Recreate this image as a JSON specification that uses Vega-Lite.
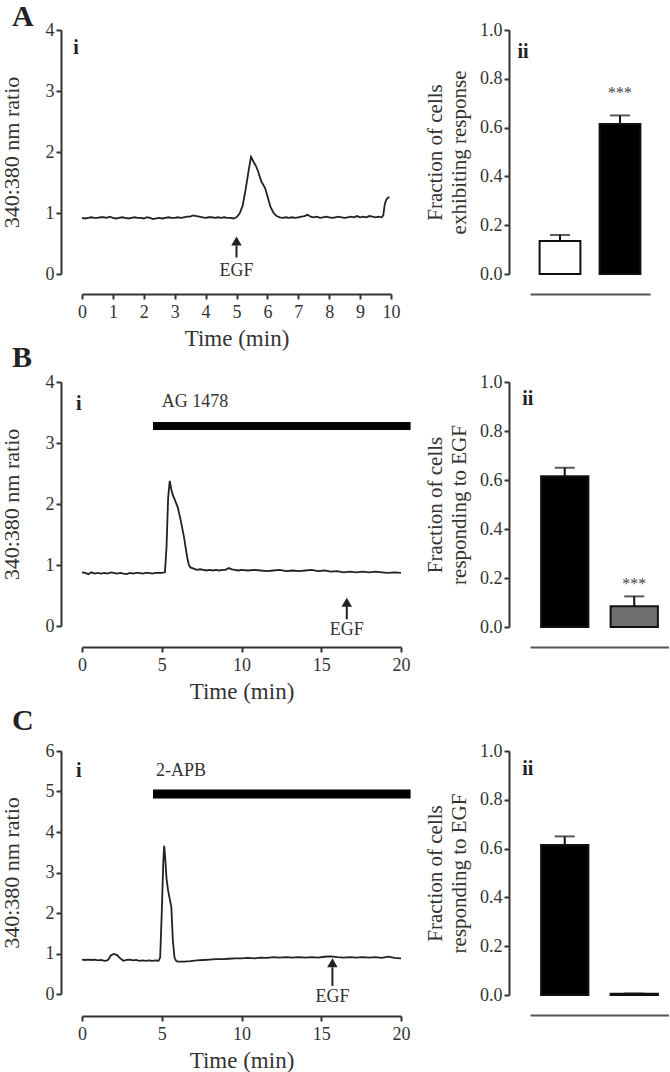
{
 "$schema": "https://vega.github.io/schema/vega-lite/v6.json",
 "padding": {"top": 2, "left": 0, "right": 0, "bottom": 0},
 "background": "white",
 "config": {
  "font": "Liberation Serif",
  "view": {"stroke": null},
  "axis": {"domainColor": "#333", "domainWidth": 2, "tickColor": "#333", "tickWidth": 2, "tickSize": 5, "labelFont": "Liberation Serif", "labelFontSize": 18, "labelColor": "#333", "titleFont": "Liberation Serif", "titleFontSize": 22, "titleFontWeight": "normal", "titleColor": "#333", "grid": false, "labelPadding": 2, "labelFlush": false, "labelOverlap": false},
  "title": {"font": "Liberation Serif", "fontSize": 30, "fontWeight": "bold", "color": "#222", "anchor": "start", "frame": "group"},
  "text": {"font": "Liberation Serif", "color": "#333"}
 },
 "datasets": {
  "traceA": [
   {"t":0,"r":0.92},{"t":0.1,"r":0.91},{"t":0.2,"r":0.92},{"t":0.3,"r":0.93},{"t":0.4,"r":0.92},{"t":0.5,"r":0.92},{"t":0.6,"r":0.93},{"t":0.7,"r":0.93},{"t":0.8,"r":0.92},{"t":0.9,"r":0.94},
   {"t":1.0,"r":0.92},{"t":1.1,"r":0.91},{"t":1.2,"r":0.92},{"t":1.3,"r":0.93},{"t":1.4,"r":0.92},{"t":1.5,"r":0.91},{"t":1.6,"r":0.92},{"t":1.7,"r":0.93},{"t":1.8,"r":0.92},{"t":1.9,"r":0.92},
   {"t":2.0,"r":0.91},{"t":2.1,"r":0.93},{"t":2.2,"r":0.92},{"t":2.3,"r":0.90},{"t":2.4,"r":0.91},{"t":2.5,"r":0.92},{"t":2.6,"r":0.91},{"t":2.7,"r":0.92},{"t":2.8,"r":0.93},{"t":2.9,"r":0.92},
   {"t":3.0,"r":0.92},{"t":3.1,"r":0.93},{"t":3.2,"r":0.92},{"t":3.3,"r":0.93},{"t":3.4,"r":0.94},{"t":3.5,"r":0.94},{"t":3.6,"r":0.96},{"t":3.7,"r":0.95},{"t":3.8,"r":0.94},{"t":3.9,"r":0.93},
   {"t":4.0,"r":0.92},{"t":4.1,"r":0.93},{"t":4.2,"r":0.93},{"t":4.3,"r":0.92},{"t":4.4,"r":0.93},{"t":4.5,"r":0.92},{"t":4.6,"r":0.93},{"t":4.7,"r":0.92},{"t":4.8,"r":0.92},{"t":4.9,"r":0.91},
   {"t":5.0,"r":0.93},{"t":5.1,"r":0.99},{"t":5.2,"r":1.12},{"t":5.3,"r":1.40},{"t":5.4,"r":1.72},{"t":5.47,"r":1.92},{"t":5.55,"r":1.84},{"t":5.63,"r":1.77},{"t":5.7,"r":1.68},{"t":5.8,"r":1.52},
   {"t":5.87,"r":1.46},{"t":5.93,"r":1.40},{"t":6.0,"r":1.28},{"t":6.1,"r":1.10},{"t":6.2,"r":1.00},{"t":6.3,"r":0.95},{"t":6.4,"r":0.93},{"t":6.5,"r":0.92},{"t":6.6,"r":0.93},{"t":6.7,"r":0.92},
   {"t":6.8,"r":0.93},{"t":6.9,"r":0.92},{"t":7.0,"r":0.93},{"t":7.1,"r":0.94},{"t":7.2,"r":0.95},{"t":7.3,"r":0.97},{"t":7.4,"r":0.94},{"t":7.5,"r":0.93},{"t":7.6,"r":0.94},{"t":7.7,"r":0.92},
   {"t":7.8,"r":0.93},{"t":7.9,"r":0.94},{"t":8.0,"r":0.93},{"t":8.1,"r":0.92},{"t":8.2,"r":0.93},{"t":8.3,"r":0.94},{"t":8.4,"r":0.93},{"t":8.5,"r":0.92},{"t":8.6,"r":0.93},{"t":8.7,"r":0.94},
   {"t":8.8,"r":0.93},{"t":8.9,"r":0.95},{"t":9.0,"r":0.93},{"t":9.1,"r":0.94},{"t":9.2,"r":0.93},{"t":9.3,"r":0.95},{"t":9.4,"r":0.94},{"t":9.5,"r":0.93},{"t":9.6,"r":0.94},{"t":9.7,"r":0.93},
   {"t":9.75,"r":0.96},{"t":9.8,"r":1.15},{"t":9.85,"r":1.22},{"t":9.9,"r":1.25},{"t":9.95,"r":1.26}
  ],
  "traceB": [
   {"t":0,"r":0.88},{"t":0.2,"r":0.87},{"t":0.4,"r":0.85},{"t":0.6,"r":0.88},{"t":0.8,"r":0.86},{"t":1.0,"r":0.87},{"t":1.2,"r":0.86},{"t":1.4,"r":0.87},{"t":1.6,"r":0.86},{"t":1.8,"r":0.88},
   {"t":2.0,"r":0.87},{"t":2.2,"r":0.86},{"t":2.4,"r":0.87},{"t":2.6,"r":0.86},{"t":2.8,"r":0.85},{"t":3.0,"r":0.87},{"t":3.2,"r":0.86},{"t":3.4,"r":0.87},{"t":3.6,"r":0.87},{"t":3.8,"r":0.86},
   {"t":4.0,"r":0.87},{"t":4.2,"r":0.87},{"t":4.4,"r":0.86},{"t":4.6,"r":0.87},{"t":4.8,"r":0.87},{"t":5.0,"r":0.87},{"t":5.2,"r":0.88},{"t":5.3,"r":1.3},{"t":5.4,"r":2.1},{"t":5.5,"r":2.38},
   {"t":5.6,"r":2.24},{"t":5.7,"r":2.14},{"t":5.8,"r":2.08},{"t":6.0,"r":1.95},{"t":6.2,"r":1.72},{"t":6.4,"r":1.45},{"t":6.5,"r":1.28},{"t":6.6,"r":1.12},{"t":6.7,"r":1.0},{"t":6.8,"r":0.96},
   {"t":7.0,"r":0.94},{"t":7.2,"r":0.92},{"t":7.4,"r":0.93},{"t":7.6,"r":0.92},{"t":7.8,"r":0.91},{"t":8.0,"r":0.92},{"t":8.2,"r":0.91},{"t":8.4,"r":0.92},{"t":8.6,"r":0.91},{"t":8.8,"r":0.92},
   {"t":9.0,"r":0.92},{"t":9.2,"r":0.95},{"t":9.4,"r":0.93},{"t":9.6,"r":0.92},{"t":9.8,"r":0.91},{"t":10.0,"r":0.92},{"t":10.4,"r":0.91},{"t":10.8,"r":0.92},{"t":11.2,"r":0.91},{"t":11.6,"r":0.90},
   {"t":12.0,"r":0.91},{"t":12.4,"r":0.92},{"t":12.8,"r":0.90},{"t":13.2,"r":0.91},{"t":13.6,"r":0.90},{"t":14.0,"r":0.91},{"t":14.4,"r":0.92},{"t":14.8,"r":0.90},{"t":15.2,"r":0.91},{"t":15.6,"r":0.89},
   {"t":16.0,"r":0.90},{"t":16.4,"r":0.88},{"t":16.8,"r":0.89},{"t":17.2,"r":0.88},{"t":17.6,"r":0.89},{"t":18.0,"r":0.88},{"t":18.4,"r":0.89},{"t":18.8,"r":0.88},{"t":19.2,"r":0.87},{"t":19.6,"r":0.88},{"t":20.0,"r":0.87}
  ],
  "traceC": [
   {"t":0,"r":0.85},{"t":0.2,"r":0.84},{"t":0.4,"r":0.85},{"t":0.6,"r":0.84},{"t":0.8,"r":0.85},{"t":1.0,"r":0.83},{"t":1.2,"r":0.84},{"t":1.4,"r":0.82},{"t":1.6,"r":0.83},{"t":1.7,"r":0.88},
   {"t":1.8,"r":0.95},{"t":2.0,"r":0.99},{"t":2.2,"r":0.96},{"t":2.4,"r":0.88},{"t":2.6,"r":0.82},{"t":2.8,"r":0.84},{"t":3.0,"r":0.85},{"t":3.2,"r":0.83},{"t":3.4,"r":0.84},{"t":3.6,"r":0.82},
   {"t":3.8,"r":0.83},{"t":4.0,"r":0.82},{"t":4.2,"r":0.83},{"t":4.4,"r":0.82},{"t":4.6,"r":0.83},{"t":4.8,"r":0.82},{"t":4.9,"r":0.9},{"t":5.0,"r":2.0},{"t":5.1,"r":3.3},{"t":5.15,"r":3.66},
   {"t":5.2,"r":3.45},{"t":5.3,"r":2.85},{"t":5.4,"r":2.55},{"t":5.5,"r":2.35},{"t":5.6,"r":2.15},{"t":5.7,"r":1.3},{"t":5.8,"r":0.9},{"t":5.9,"r":0.82},{"t":6.0,"r":0.80},{"t":6.4,"r":0.80},
   {"t":6.8,"r":0.81},{"t":7.2,"r":0.83},{"t":7.6,"r":0.84},{"t":8.0,"r":0.85},{"t":8.4,"r":0.86},{"t":8.8,"r":0.86},{"t":9.2,"r":0.87},{"t":9.6,"r":0.88},{"t":10.0,"r":0.88},{"t":10.4,"r":0.89},
   {"t":10.8,"r":0.88},{"t":11.2,"r":0.90},{"t":11.6,"r":0.89},{"t":12.0,"r":0.91},{"t":12.4,"r":0.90},{"t":12.8,"r":0.91},{"t":13.2,"r":0.90},{"t":13.6,"r":0.91},{"t":14.0,"r":0.90},{"t":14.4,"r":0.91},
   {"t":14.8,"r":0.90},{"t":15.2,"r":0.92},{"t":15.6,"r":0.93},{"t":16.0,"r":0.91},{"t":16.4,"r":0.90},{"t":16.8,"r":0.91},{"t":17.2,"r":0.90},{"t":17.6,"r":0.91},{"t":18.0,"r":0.90},{"t":18.4,"r":0.91},
   {"t":18.8,"r":0.89},{"t":19.2,"r":0.92},{"t":19.6,"r":0.89},{"t":20.0,"r":0.88}
  ],
  "barsA": [{"group":"Control","fraction":0.135,"upper":0.16},{"group":"EGF","fraction":0.615,"upper":0.65}],
  "barsB": [{"group":"EGF","fraction":0.615,"upper":0.65},{"group":"AG 1478","fraction":0.085,"upper":0.125}],
  "barsC": [{"group":"EGF","fraction":0.615,"upper":0.65},{"group":"2-APB","fraction":0.005,"upper":0.006}]
 },
 "columns": 2,
 "align": "each",
 "bounds": "flush",
 "spacing": {"row": 108, "column": 129},
 "resolve": {"scale": {"color": "independent"}},
 "concat": [
  {
   "width": 309, "height": 244,
   "title": {"text": "A", "dx": -70, "offset": -11},
   "layer": [
    {"data": {"name": "traceA"}, "mark": {"type": "line", "color": "#222", "strokeWidth": 1.8},
     "encoding": {
      "x": {"field": "t", "type": "quantitative", "scale": {"domain": [0, 10], "nice": false}, "axis": {"title": "Time (min)", "titleFontSize": 23, "offset": 20, "values": [0,1,2,3,4,5,6,7,8,9,10], "tickCount": 11, "format": "d", "labelOverlap": false, "labelPadding": 4, "titlePadding": 6}},
      "y": {"field": "r", "type": "quantitative", "scale": {"domain": [0, 4], "nice": false}, "axis": {"title": "340:380 nm ratio", "offset": 21, "values": [0,1,2,3,4], "tickCount": 5, "format": "d", "labelOverlap": false, "titlePadding": 22}}
     }},
    {"data": {"values": [{"t": 5.0, "label": "EGF"}]}, "mark": {"type": "rule", "color": "#222", "strokeWidth": 2},
     "encoding": {"x": {"field": "t", "type": "quantitative"}, "y": {"datum": 0.27}, "y2": {"datum": 0.47}}},
    {"data": {"values": [{"t": 5.0, "label": "EGF"}]}, "mark": {"type": "point", "shape": "triangle-up", "filled": true, "size": 110, "color": "#222", "opacity": 1},
     "encoding": {"x": {"field": "t", "type": "quantitative"}, "y": {"datum": 0.54}}},
    {"data": {"values": [{"t": 5.0, "label": "EGF"}]}, "mark": {"type": "text", "fontSize": 18, "baseline": "middle"},
     "encoding": {"x": {"field": "t", "type": "quantitative"}, "y": {"datum": 0.05}, "text": {"field": "label"}}},
    {"data": {"values": [{"label": "i"}]}, "mark": {"type": "text", "fontSize": 20, "fontWeight": "bold", "baseline": "middle", "color": "#222"},
     "encoding": {"x": {"datum": -0.19}, "y": {"datum": 3.7}, "text": {"field": "label"}}}
   ]
  },
  {
   "width": 120, "height": 244,
   "data": {"name": "barsA"},
   "layer": [
    {"mark": {"type": "bar", "stroke": "#111", "strokeWidth": 2},
     "encoding": {
      "x": {"field": "group", "type": "nominal", "sort": null, "scale": {"domain": ["Control", "EGF"], "paddingInner": 0.32, "paddingOuter": 0.16}, "axis": {"title": null, "labels": false, "ticks": false, "offset": 20, "domainColor": "#555"}},
      "y": {"field": "fraction", "type": "quantitative", "scale": {"domain": [0, 1], "nice": false}, "axis": {"title": ["Fraction of cells", "exhibiting response"], "titleFontSize": 21, "titleLineHeight": 24, "offset": 21, "values": [0, 0.2, 0.4, 0.6, 0.8, 1.0], "tickCount": 6, "format": ".1f", "labelOverlap": false, "titlePadding": 10}},
      "color": {"field": "group", "type": "nominal", "scale": {"domain": ["Control", "EGF"], "range": ["#ffffff", "#000000"]}, "legend": null}
     }},
    {"mark": {"type": "rule", "color": "#111", "strokeWidth": 2},
     "encoding": {"x": {"field": "group", "type": "nominal", "sort": null}, "y": {"field": "fraction", "type": "quantitative"}, "y2": {"field": "upper"}}},
    {"mark": {"type": "tick", "color": "#111", "thickness": 2, "size": 20, "orient": "horizontal"},
     "encoding": {"x": {"field": "group", "type": "nominal", "sort": null}, "y": {"field": "upper", "type": "quantitative"}}},
    {"data": {"values": [{"group": "EGF", "sig": "***"}]}, "mark": {"type": "text", "fontSize": 16, "baseline": "middle", "color": "#444"},
     "encoding": {"x": {"field": "group", "type": "nominal", "sort": null}, "y": {"datum": 0.74}, "text": {"field": "sig"}}},
    {"data": {"values": [{"group": "Control", "label": "ii"}]}, "mark": {"type": "text", "fontSize": 20, "fontWeight": "bold", "baseline": "middle", "dx": -37, "color": "#222"},
     "encoding": {"x": {"field": "group", "type": "nominal", "sort": null}, "y": {"datum": 0.91}, "text": {"field": "label"}}}
   ]
  },
  {
   "width": 319, "height": 261,
   "title": {"text": "B", "dx": -70, "offset": 0},
   "layer": [
    {"data": {"name": "traceB"}, "mark": {"type": "line", "color": "#222", "strokeWidth": 1.8},
     "encoding": {
      "x": {"field": "t", "type": "quantitative", "scale": {"domain": [0, 20], "nice": false}, "axis": {"title": "Time (min)", "titleFontSize": 23, "offset": 4, "values": [0,5,10,15,20], "tickCount": 5, "format": "d", "labelOverlap": false, "labelPadding": 4, "titlePadding": 6}},
      "y": {"field": "r", "type": "quantitative", "scale": {"domain": [0, 4], "nice": false, "range": [244, 0]}, "axis": {"title": "340:380 nm ratio", "offset": 21, "values": [0,1,2,3,4], "tickCount": 5, "format": "d", "labelOverlap": false, "titlePadding": 22}}
     }},
    {"data": {"values": [{"start": 4.45, "end": 20.6, "drug": "AG 1478"}]}, "mark": {"type": "rule", "color": "#000", "strokeWidth": 8, "strokeCap": "butt"},
     "encoding": {"x": {"field": "start", "type": "quantitative"}, "x2": {"field": "end"}, "y": {"datum": 3.28}}},
    {"data": {"values": [{"start": 4.45, "end": 20.6, "drug": "AG 1478"}]}, "mark": {"type": "text", "fontSize": 18, "align": "left", "baseline": "middle"},
     "encoding": {"x": {"datum": 5.0}, "y": {"datum": 3.67}, "text": {"field": "drug"}}},
    {"data": {"values": [{"t": 16.6, "label": "EGF"}]}, "mark": {"type": "rule", "color": "#222", "strokeWidth": 2},
     "encoding": {"x": {"field": "t", "type": "quantitative"}, "y": {"datum": 0.11}, "y2": {"datum": 0.33}}},
    {"data": {"values": [{"t": 16.6, "label": "EGF"}]}, "mark": {"type": "point", "shape": "triangle-up", "filled": true, "size": 110, "color": "#222", "opacity": 1},
     "encoding": {"x": {"field": "t", "type": "quantitative"}, "y": {"datum": 0.39}}},
    {"data": {"values": [{"t": 16.6, "label": "EGF"}]}, "mark": {"type": "text", "fontSize": 18, "baseline": "middle"},
     "encoding": {"x": {"field": "t", "type": "quantitative"}, "y": {"datum": -0.07}, "text": {"field": "label"}}},
    {"data": {"values": [{"label": "i"}]}, "mark": {"type": "text", "fontSize": 20, "fontWeight": "bold", "baseline": "middle", "color": "#222"},
     "encoding": {"x": {"datum": -0.2}, "y": {"datum": 3.64}, "text": {"field": "label"}}}
   ]
  },
  {
   "width": 139, "height": 245,
   "data": {"name": "barsB"},
   "layer": [
    {"mark": {"type": "bar", "stroke": "#111", "strokeWidth": 2},
     "encoding": {
      "x": {"field": "group", "type": "nominal", "sort": null, "scale": {"domain": ["EGF", "AG 1478"], "paddingInner": 0.32, "paddingOuter": 0.16}, "axis": {"title": null, "labels": false, "ticks": false, "offset": 20, "domainColor": "#555"}},
      "y": {"field": "fraction", "type": "quantitative", "scale": {"domain": [0, 1], "nice": false}, "axis": {"title": ["Fraction of cells", "responding to EGF"], "titleFontSize": 21, "titleLineHeight": 24, "offset": 21, "values": [0, 0.2, 0.4, 0.6, 0.8, 1.0], "tickCount": 6, "format": ".1f", "labelOverlap": false, "titlePadding": 10}},
      "color": {"field": "group", "type": "nominal", "scale": {"domain": ["EGF", "AG 1478"], "range": ["#000000", "#707070"]}, "legend": null}
     }},
    {"mark": {"type": "rule", "color": "#111", "strokeWidth": 2},
     "encoding": {"x": {"field": "group", "type": "nominal", "sort": null}, "y": {"field": "fraction", "type": "quantitative"}, "y2": {"field": "upper"}}},
    {"mark": {"type": "tick", "color": "#111", "thickness": 2, "size": 20, "orient": "horizontal"},
     "encoding": {"x": {"field": "group", "type": "nominal", "sort": null}, "y": {"field": "upper", "type": "quantitative"}}},
    {"data": {"values": [{"group": "AG 1478", "sig": "***"}]}, "mark": {"type": "text", "fontSize": 16, "baseline": "middle", "color": "#444"},
     "encoding": {"x": {"field": "group", "type": "nominal", "sort": null}, "y": {"datum": 0.175}, "text": {"field": "sig"}}},
    {"data": {"values": [{"group": "EGF", "label": "ii"}]}, "mark": {"type": "text", "fontSize": 20, "fontWeight": "bold", "baseline": "middle", "dx": -37, "color": "#222"},
     "encoding": {"x": {"field": "group", "type": "nominal", "sort": null}, "y": {"datum": 0.93}, "text": {"field": "label"}}}
   ]
  },
  {
   "width": 319, "height": 243,
   "title": {"text": "C", "dx": -70, "offset": 6},
   "layer": [
    {"data": {"name": "traceC"}, "mark": {"type": "line", "color": "#222", "strokeWidth": 1.8},
     "encoding": {
      "x": {"field": "t", "type": "quantitative", "scale": {"domain": [0, 20], "nice": false}, "axis": {"title": "Time (min)", "titleFontSize": 23, "offset": 22, "values": [0,5,10,15,20], "tickCount": 5, "format": "d", "labelOverlap": false, "labelPadding": 4, "titlePadding": 6}},
      "y": {"field": "r", "type": "quantitative", "scale": {"domain": [0, 6], "nice": false}, "axis": {"title": "340:380 nm ratio", "offset": 21, "values": [0,1,2,3,4,5,6], "tickCount": 7, "format": "d", "labelOverlap": false, "titlePadding": 22}}
     }},
    {"data": {"values": [{"start": 4.45, "end": 20.6, "drug": "2-APB"}]}, "mark": {"type": "rule", "color": "#000", "strokeWidth": 9, "strokeCap": "butt"},
     "encoding": {"x": {"field": "start", "type": "quantitative"}, "x2": {"field": "end"}, "y": {"datum": 4.94}}},
    {"data": {"values": [{"start": 4.45, "end": 20.6, "drug": "2-APB"}]}, "mark": {"type": "text", "fontSize": 18, "align": "left", "baseline": "middle"},
     "encoding": {"x": {"datum": 4.64}, "y": {"datum": 5.5}, "text": {"field": "drug"}}},
    {"data": {"values": [{"t": 15.7, "label": "EGF"}]}, "mark": {"type": "rule", "color": "#222", "strokeWidth": 2},
     "encoding": {"x": {"field": "t", "type": "quantitative"}, "y": {"datum": 0.2}, "y2": {"datum": 0.66}}},
    {"data": {"values": [{"t": 15.7, "label": "EGF"}]}, "mark": {"type": "point", "shape": "triangle-up", "filled": true, "size": 110, "color": "#222", "opacity": 1},
     "encoding": {"x": {"field": "t", "type": "quantitative"}, "y": {"datum": 0.77}}},
    {"data": {"values": [{"t": 15.7, "label": "EGF"}]}, "mark": {"type": "text", "fontSize": 18, "baseline": "middle"},
     "encoding": {"x": {"field": "t", "type": "quantitative"}, "y": {"datum": -0.07}, "text": {"field": "label"}}},
    {"data": {"values": [{"label": "i"}]}, "mark": {"type": "text", "fontSize": 20, "fontWeight": "bold", "baseline": "middle", "color": "#222"},
     "encoding": {"x": {"datum": -0.2}, "y": {"datum": 5.5}, "text": {"field": "label"}}}
   ]
  },
  {
   "width": 139, "height": 244,
   "data": {"name": "barsC"},
   "layer": [
    {"mark": {"type": "bar", "stroke": "#111", "strokeWidth": 2},
     "encoding": {
      "x": {"field": "group", "type": "nominal", "sort": null, "scale": {"domain": ["EGF", "2-APB"], "paddingInner": 0.32, "paddingOuter": 0.16}, "axis": {"title": null, "labels": false, "ticks": false, "offset": 20, "domainColor": "#555"}},
      "y": {"field": "fraction", "type": "quantitative", "scale": {"domain": [0, 1], "nice": false}, "axis": {"title": ["Fraction of cells", "responding to EGF"], "titleFontSize": 21, "titleLineHeight": 24, "offset": 21, "values": [0, 0.2, 0.4, 0.6, 0.8, 1.0], "tickCount": 6, "format": ".1f", "labelOverlap": false, "titlePadding": 10}},
      "color": {"field": "group", "type": "nominal", "scale": {"domain": ["EGF", "2-APB"], "range": ["#000000", "#000000"]}, "legend": null}
     }},
    {"mark": {"type": "rule", "color": "#111", "strokeWidth": 2},
     "encoding": {"x": {"field": "group", "type": "nominal", "sort": null}, "y": {"field": "fraction", "type": "quantitative"}, "y2": {"field": "upper"}}},
    {"mark": {"type": "tick", "color": "#111", "thickness": 2, "size": 20, "orient": "horizontal"},
     "encoding": {"x": {"field": "group", "type": "nominal", "sort": null}, "y": {"field": "upper", "type": "quantitative"}}},
    {"data": {"values": [{"group": "EGF", "label": "ii"}]}, "mark": {"type": "text", "fontSize": 20, "fontWeight": "bold", "baseline": "middle", "dx": -37, "color": "#222"},
     "encoding": {"x": {"field": "group", "type": "nominal", "sort": null}, "y": {"datum": 0.927}, "text": {"field": "label"}}}
   ]
  }
 ]
}
